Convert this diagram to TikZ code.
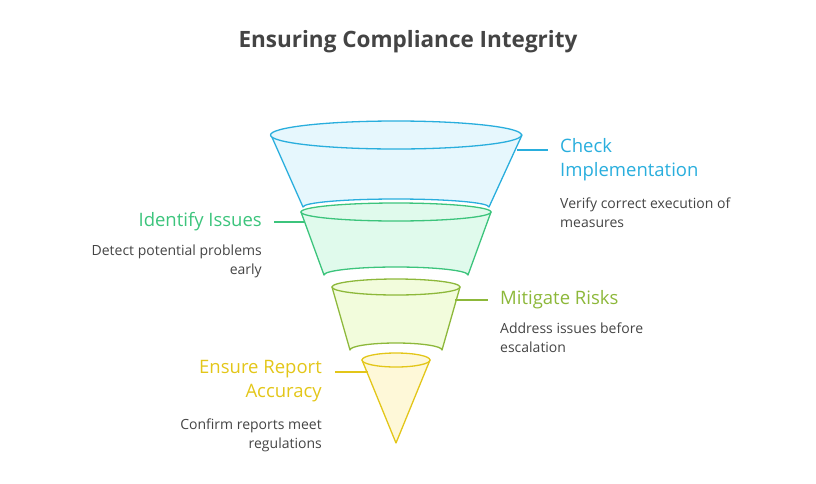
\documentclass[tikz,border=0pt]{standalone}
\usepackage{fontspec}
\setmainfont{Open Sans}
\usetikzlibrary{positioning}
\definecolor{cBlue}{HTML}{29AEDD}
\definecolor{fBlue}{HTML}{E6F7FD}
\definecolor{cGreen}{HTML}{3CC47C}
\definecolor{fGreen}{HTML}{E0FAEC}
\definecolor{cLime}{HTML}{8DB83A}
\definecolor{fLime}{HTML}{F2FCDC}
\definecolor{cYellow}{HTML}{E3C619}
\definecolor{fYellow}{HTML}{FEF8D8}
\definecolor{txt}{HTML}{444444}
\tikzset{
  head/.style={font=\fontsize{18.5}{24}\selectfont, align=left, inner sep=0pt},
  desc/.style={font=\fontsize{14}{18.5}\selectfont, text=txt, align=left, inner sep=0pt},
  part/.style={line width=1.3pt, line join=round},
}
\begin{document}
\begin{tikzpicture}[x=1pt, y=-1pt]
\useasboundingbox (0,0) rectangle (816,483);

\node[font=\bfseries\fontsize{22.5}{26}\selectfont, text=txt] (title) at (408,42) {Ensuring Compliance Integrity};

% Funnel parts
\filldraw[part, draw=cBlue, fill=fBlue] (271,135) -- (303,207) arc (180:360:93 and 8) -- (522,135) -- cycle;
\filldraw[part, draw=cBlue, fill=fBlue] (396,135) ellipse (125.5 and 14);

\filldraw[part, draw=cGreen, fill=fGreen] (301,212) -- (324,275) arc (180:360:72 and 8) -- (491,212) -- cycle;
\filldraw[part, draw=cGreen, fill=fGreen] (396,212) ellipse (95 and 9);

\filldraw[part, draw=cLime, fill=fLime] (332,287) -- (350,350) arc (180:360:46 and 7) -- (460,287) -- cycle;
\filldraw[part, draw=cLime, fill=fLime] (396,287) ellipse (64 and 8);

\filldraw[part, draw=cYellow, fill=fYellow] (362,360) -- (396,443) -- (430,360) -- cycle;
\filldraw[part, draw=cYellow, fill=fYellow] (396,360) ellipse (34 and 7);

% Labels
\coordinate (p1) at (517,150);
\node[head, text=cBlue, anchor=north west] (check) at (560,138) {Check\\Implementation};
\node[desc, anchor=north west] (checkd) at (560,198) {Verify correct execution of\\measures};
\draw[cBlue, line width=1.2pt] (p1) -- ++(31,0);
\coordinate (p2) at (305,222);
\node[head, text=cGreen, anchor=east] (ident) at (262,222) {Identify Issues};
\node[desc, anchor=north east, align=right] (identd) at (262,245) {Detect potential problems\\early};
\draw[cGreen, line width=1.2pt] (p2) -- ++(-31,0);
\coordinate (p3) at (455,300);
\node[head, text=cLime, anchor=west] (mitig) at (500,300) {Mitigate Risks};
\node[desc, anchor=north west] (mitigd) at (500,323) {Address issues before\\escalation};
\draw[cLime, line width=1.2pt] (p3) -- ++(33,0);
\coordinate (p4) at (368,372);
\node[head, text=cYellow, anchor=north east, align=right] (ensure) at (322,360) {Ensure Report\\Accuracy};
\node[desc, anchor=north east, align=right] (ensured) at (322,419) {Confirm reports meet\\regulations};
\draw[cYellow, line width=1.2pt] (p4) -- ++(-33,0);
\end{tikzpicture}
\end{document}
